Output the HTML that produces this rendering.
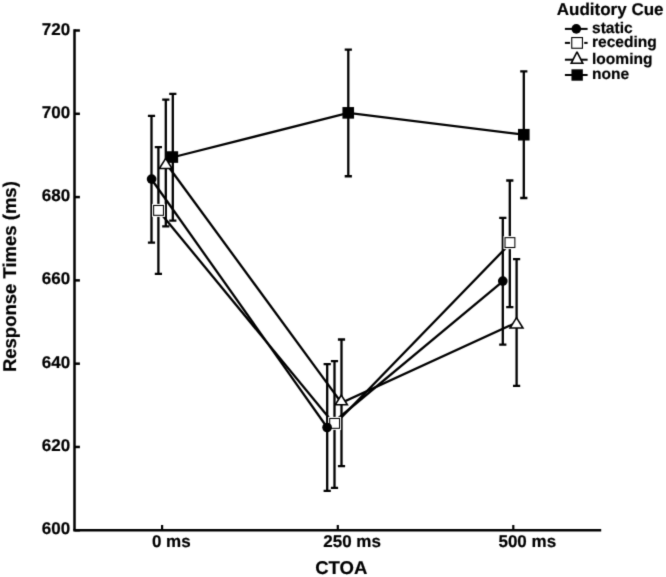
<!DOCTYPE html><html><head><meta charset="utf-8"><style>html,body{margin:0;padding:0;background:#fff;overflow:hidden;}svg{display:block;}text{font-family:"Liberation Sans",sans-serif;font-weight:bold;fill:#000;stroke:#000;stroke-width:0.2px;text-rendering:geometricPrecision;}</style></head><body>
<svg width="666" height="577" viewBox="0 0 666 577">
<defs><filter id="bl" filterUnits="userSpaceOnUse" x="0" y="0" width="666" height="577" color-interpolation-filters="sRGB"><feConvolveMatrix order="3" kernelMatrix="1 6 1 6 36 6 1 6 1" divisor="64" edgeMode="duplicate"/></filter></defs>
<g filter="url(#bl)"><rect width="666" height="577" fill="#fff"/>
<path d="M74.5 29.25 V530.25" stroke="#000" stroke-width="2.5" fill="none"/>
<path d="M73.25 530.25 H601.2" stroke="#000" stroke-width="2.5" fill="none"/>
<path d="M74.5 30.50 H79.9" stroke="#000" stroke-width="2.5"/>
<text x="70.2" y="34.50" font-size="17.0" text-anchor="end">720</text>
<path d="M74.5 113.79 H79.9" stroke="#000" stroke-width="2.5"/>
<text x="70.2" y="117.79" font-size="17.0" text-anchor="end">700</text>
<path d="M74.5 197.08 H79.9" stroke="#000" stroke-width="2.5"/>
<text x="70.2" y="201.08" font-size="17.0" text-anchor="end">680</text>
<path d="M74.5 280.38 H79.9" stroke="#000" stroke-width="2.5"/>
<text x="70.2" y="284.38" font-size="17.0" text-anchor="end">660</text>
<path d="M74.5 363.67 H79.9" stroke="#000" stroke-width="2.5"/>
<text x="70.2" y="367.67" font-size="17.0" text-anchor="end">640</text>
<path d="M74.5 446.96 H79.9" stroke="#000" stroke-width="2.5"/>
<text x="70.2" y="450.96" font-size="17.0" text-anchor="end">620</text>
<path d="M74.5 530.25 H79.9" stroke="#000" stroke-width="2.5"/>
<text x="70.2" y="534.25" font-size="17.0" text-anchor="end">600</text>
<path d="M162.1 530.25 V525" stroke="#000" stroke-width="2.2"/>
<path d="M337.8 530.25 V525" stroke="#000" stroke-width="2.2"/>
<path d="M513.3 530.25 V525" stroke="#000" stroke-width="2.2"/>
<text x="151.95" y="547.25" font-size="17.0">0 ms</text>
<text x="323.25" y="547.25" font-size="17.0">250 ms</text>
<text x="498.45" y="547.25" font-size="17.0">500 ms</text>
<text x="315.15" y="573.6" font-size="18.55">CTOA</text>
<text transform="translate(16.3 372.1) rotate(-90)" x="0" y="0" font-size="18.5">Response Times (ms)</text>
<path d="M172.80 157.25 L348.30 112.90 L523.80 134.65" stroke="#000" stroke-width="2.3" fill="none" stroke-linejoin="miter"/>
<path d="M158.40 210.45 L334.50 424.55 L509.80 243.85" stroke="#000" stroke-width="2.3" fill="none" stroke-linejoin="miter"/>
<path d="M165.80 162.95 L341.50 402.85 L516.60 322.50" stroke="#000" stroke-width="2.3" fill="none" stroke-linejoin="miter"/>
<path d="M151.50 179.25 L327.20 427.45 L502.80 281.30" stroke="#000" stroke-width="2.3" fill="none" stroke-linejoin="miter"/>
<path d="M172.80 93.90 V220.60 M169.20 93.90 H176.40 M169.20 220.60 H176.40" stroke="#000" stroke-width="2.3" fill="none"/>
<path d="M348.30 49.55 V176.25 M344.70 49.55 H351.90 M344.70 176.25 H351.90" stroke="#000" stroke-width="2.3" fill="none"/>
<path d="M523.80 71.30 V198.00 M520.20 71.30 H527.40 M520.20 198.00 H527.40" stroke="#000" stroke-width="2.3" fill="none"/>
<path d="M158.40 147.10 V273.80 M154.80 147.10 H162.00 M154.80 273.80 H162.00" stroke="#000" stroke-width="2.3" fill="none"/>
<path d="M334.50 361.20 V487.90 M330.90 361.20 H338.10 M330.90 487.90 H338.10" stroke="#000" stroke-width="2.3" fill="none"/>
<path d="M509.80 180.50 V307.20 M506.20 180.50 H513.40 M506.20 307.20 H513.40" stroke="#000" stroke-width="2.3" fill="none"/>
<path d="M165.80 99.60 V226.30 M162.20 99.60 H169.40 M162.20 226.30 H169.40" stroke="#000" stroke-width="2.3" fill="none"/>
<path d="M341.50 339.50 V466.20 M337.90 339.50 H345.10 M337.90 466.20 H345.10" stroke="#000" stroke-width="2.3" fill="none"/>
<path d="M516.60 259.15 V385.85 M513.00 259.15 H520.20 M513.00 385.85 H520.20" stroke="#000" stroke-width="2.3" fill="none"/>
<path d="M151.50 115.90 V242.60 M147.90 115.90 H155.10 M147.90 242.60 H155.10" stroke="#000" stroke-width="2.3" fill="none"/>
<path d="M327.20 364.10 V490.80 M323.60 364.10 H330.80 M323.60 490.80 H330.80" stroke="#000" stroke-width="2.3" fill="none"/>
<path d="M502.80 217.95 V344.65 M499.20 217.95 H506.40 M499.20 344.65 H506.40" stroke="#000" stroke-width="2.3" fill="none"/>
<rect x="166.55" y="151.25" width="11.6" height="11.6" fill="#000"/>
<rect x="342.45" y="107.05" width="11.6" height="11.6" fill="#000"/>
<rect x="518.00" y="128.90" width="11.6" height="11.6" fill="#000"/>
<rect x="152.05" y="203.90" width="13.00" height="13.00" fill="#fff"/><rect x="153.62" y="205.47" width="9.85" height="9.85" fill="#fff" stroke="#000" stroke-width="1.05"/>
<rect x="328.10" y="416.90" width="13.00" height="13.00" fill="#fff"/><rect x="329.68" y="418.47" width="9.85" height="9.85" fill="#fff" stroke="#000" stroke-width="1.05"/>
<rect x="503.45" y="236.10" width="13.00" height="13.00" fill="#fff"/><rect x="505.02" y="237.67" width="9.85" height="9.85" fill="#fff" stroke="#000" stroke-width="1.05"/>
<path d="M165.70 158.40 L172.05 168.50 L159.35 168.50 Z" fill="#fff" stroke="#000" stroke-width="1.6" stroke-linejoin="miter" stroke-miterlimit="4"/>
<path d="M341.30 395.08 L347.34 404.80 L335.26 404.80 Z" fill="#fff" stroke="#000" stroke-width="1.6" stroke-linejoin="miter" stroke-miterlimit="4"/>
<path d="M516.50 317.69 L522.94 328.00 L510.06 328.00 Z" fill="#fff" stroke="#000" stroke-width="1.6" stroke-linejoin="miter" stroke-miterlimit="4"/>
<circle cx="151.60" cy="179.10" r="4.85" fill="#000"/>
<circle cx="327.10" cy="427.50" r="4.85" fill="#000"/>
<circle cx="502.80" cy="281.10" r="4.85" fill="#000"/>
<text x="556.8" y="14.5" font-size="17.0">Auditory Cue</text>
<path d="M564.9 28.9 H587.6" stroke="#000" stroke-width="2"/>
<circle cx="576.30" cy="28.90" r="4.8" fill="#000"/>
<text x="592.0" y="32.8" font-size="15.55">static</text>
<path d="M564.9 42.9 H587.6" stroke="#000" stroke-width="2"/>
<rect x="570.00" y="35.80" width="14.20" height="14.20" fill="#fff"/><rect x="571.75" y="37.55" width="10.70" height="10.70" fill="#fff" stroke="#000" stroke-width="1.1"/>
<text x="592.0" y="47.1" font-size="15.55">receding</text>
<path d="M564.9 59.7 H587.6" stroke="#000" stroke-width="2"/>
<path d="M577.00 51.83 L582.80 63.30 L571.20 63.30 Z" fill="#fff" stroke="#000" stroke-width="1.6" stroke-linejoin="miter" stroke-miterlimit="2.0"/>
<text x="592.0" y="64.4" font-size="15.55">looming</text>
<path d="M564.9 75.0 H587.6" stroke="#000" stroke-width="2"/>
<rect x="571.45" y="69.30" width="11.4" height="11.4" fill="#000"/>
<text x="592.0" y="79.0" font-size="15.55">none</text>
</g></svg></body></html>
